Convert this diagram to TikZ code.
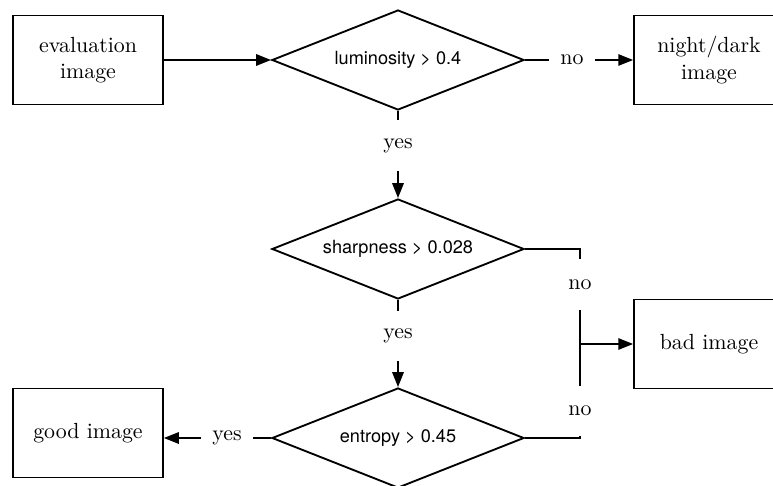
\documentclass[tikz,border=0pt]{standalone}
\usepackage{fontspec}
\newfontfamily\herosfont{TeX Gyre Heros}
\usetikzlibrary{shapes.geometric,arrows.meta}
\begin{document}
\begin{tikzpicture}[x=0.457pt,y=-0.457pt,line width=0.85pt,
  >={Triangle[length=6.8pt,width=5.2pt]},
  box/.style={draw,rectangle,align=center,minimum width=68.5pt,minimum height=40.7pt,inner sep=2pt},
  decision/.style={draw,diamond,aspect=2.52,minimum width=115.2pt,minimum height=45.7pt,inner sep=0pt,
    font=\herosfont\fontsize{8.3}{10}\selectfont},
  lbl/.style={rectangle,inner xsep=4.7pt,inner ysep=0pt,minimum height=22.4pt}]
\useasboundingbox (0,0) rectangle (773,486);
\clip (0,0) rectangle (773,486);

% decision chain
\node[box] (eval) at (88,60) {evaluation\\image};
\node[decision] (lum) at (398,60) {luminosity > 0.4};
\node[box] (night) at (709,60) {night/dark\\image};
\node[decision] (sharp) at (398,249) {sharpness > 0.028};
\node[decision] (ent) at (398,438) {entropy > 0.45};
\node[box] (good) at (88,433) {good image};
\node[box] (bad) at (709,344) {bad image};

% branch labels
\node[lbl] (no1) at (572,60) {no};
\node[lbl] (yes1) at (398,145.5) {yes};
\node[lbl] (yes2) at (398,336) {yes};
\node[lbl] (yes3) at (227,438) {yes};
\node[lbl] (no2) at (580,284.5) {no};
\node[lbl] (no3) at (580,411) {no};
\coordinate (j) at (580,344);

% connectors
\draw[->] (eval) -- (lum);
\draw (lum) -- (no1);
\draw[->] (no1) -- (night);
\draw (lum) -- (yes1);
\draw[->] (yes1) -- (sharp);
\draw (sharp) -- (yes2);
\draw[->] (yes2) -- (ent);
\draw (ent) -- (yes3);
\draw[->] (yes3) -- (good.east |- yes3);
\draw (sharp.east) -| (no2.north);
\draw (no2.south) -- (no3.north);
\draw (ent.east) -| (no3.south);
\draw[->] (j) -- (bad);
\end{tikzpicture}
\end{document}
